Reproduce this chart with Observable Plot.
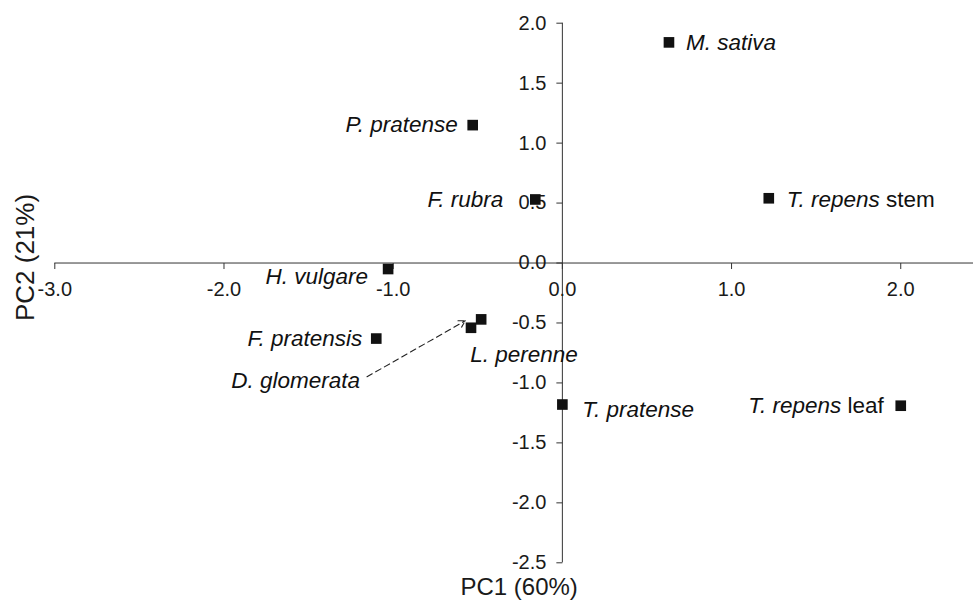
<!DOCTYPE html>
<html><head><meta charset="utf-8">
<script src="https://cdn.jsdelivr.net/npm/d3@7"></script>
<script src="https://cdn.jsdelivr.net/npm/@observablehq/plot@0.6"></script>
<style>body{margin:0;background:#fff;} svg{display:block}</style>
</head><body><div id="chart"></div>
<script>
// ---- data ----
const species = ["M. sativa","T. repens stem","P. pratense","F. rubra","H. vulgare","F. pratensis","D. glomerata","L. perenne","T. pratense","T. repens leaf"];
const pc1 = [0.63, 1.22, -0.53, -0.16, -1.03, -1.10, -0.54, -0.48, 0.0, 2.0];
const pc2 = [1.84, 0.54, 1.15, 0.53, -0.05, -0.63, -0.54, -0.47, -1.18, -1.19];
const xTicks = [-3, -2, -1, 0, 1, 2];
const yTicks = [-2.5, -2, -1.5, -1, -0.5, 0, 0.5, 1, 1.5, 2];
const xTitle = "PC1 (60%)";
const yTitle = "PC2 (21%)";
const arrowFrom = "D. glomerata";

// ---- layout (label placement in pixels) ----
const labelLayout = {
  "M. sativa":      {anchor: "start", dx: 17,   dy: 0},
  "T. repens stem": {anchor: "start", dx: 18,   dy: 2},
  "P. pratense":    {anchor: "end",   dx: -15,  dy: 0},
  "F. rubra":       {anchor: "end",   dx: -32,  dy: 0},
  "H. vulgare":     {anchor: "end",   dx: -20,  dy: 8},
  "F. pratensis":   {anchor: "end",   dx: -14,  dy: 0},
  "D. glomerata":   {anchor: "end",   dx: -111, dy: 53},
  "L. perenne":     {anchor: "start", dx: -11,  dy: 35},
  "T. pratense":    {anchor: "start", dx: 20,   dy: 5},
  "T. repens leaf": {anchor: "end",   dx: -17,  dy: 0}
};

const W = 973, H = 600, mL = 54.3, mR = 0, mT = 22.7, mB = 37.7;
const xDomain = [-3, 2.43], yDomain = [-2.5, 2];
const points = species.map((s, i) => ({name: s, x: pc1[i], y: pc2[i]}));

const xs = d3.scaleLinear(xDomain, [mL, W - mR]);
const ys = d3.scaleLinear(yDomain, [H - mB, mT]);
const ap = points.find(p => p.name === arrowFrom);
const apx = xs(ap.x), apy = ys(ap.y);
const arrowData = [{
  x1: xs.invert(apx - 104), y1: ys.invert(apy + 49),
  x2: xs.invert(apx - 5.7), y2: ys.invert(apy - 7)
}];

const tickDown = {draw(ctx) { ctx.moveTo(0, 0); ctx.lineTo(0, 6); }};
const tickLeft = {draw(ctx) { ctx.moveTo(0, 0); ctx.lineTo(-6, 0); }};
const fmt = d => d.toFixed(1);
const axisColor = "#333";

const labelMarks = points.map(p => {
  const L = labelLayout[p.name];
  return Plot.text([p], {
    x: "x", y: "y", text: "name", textAnchor: L.anchor, dx: L.dx, dy: L.dy,
    fontSize: 22.5, fontStyle: "italic", fill: "#111", lineAnchor: "middle"
  });
});

const plot = Plot.plot({
  width: W, height: H,
  marginLeft: mL, marginRight: mR, marginTop: mT, marginBottom: mB,
  x: {domain: xDomain, axis: null},
  y: {domain: yDomain, axis: null},
  style: {fontFamily: "'Liberation Sans', Arial, Helvetica, sans-serif", background: "white", color: "#111"},
  marks: [
    Plot.ruleY([0], {stroke: axisColor, strokeWidth: 1}),
    Plot.ruleX([0], {stroke: axisColor, strokeWidth: 1}),
    Plot.dot(xTicks, {x: d => d, y: () => 0, symbol: tickDown, r: 3, fill: "none", stroke: axisColor, strokeWidth: 1}),
    Plot.dot(yTicks, {x: () => 0, y: d => d, symbol: tickLeft, r: 3, fill: "none", stroke: axisColor, strokeWidth: 1}),
    Plot.text(xTicks, {x: d => d, y: () => 0, text: fmt, dy: 27, fontSize: 20, fill: "#1a1a1a", lineAnchor: "middle"}),
    Plot.text(yTicks, {x: () => 0, y: d => d, text: fmt, dx: -16, textAnchor: "end", fontSize: 20, fill: "#1a1a1a", lineAnchor: "middle"}),
    Plot.arrow(arrowData, {x1: "x1", y1: "y1", x2: "x2", y2: "y2", stroke: "#222", strokeWidth: 1.1, strokeDasharray: "6,4", headLength: 10, bend: 0}),
    Plot.dot(points, {x: "x", y: "y", symbol: "square", r: 6, fill: "#111", stroke: "none"}),
    ...labelMarks,
    Plot.text([xTitle], {frameAnchor: "bottom", textAnchor: "middle", text: d => d, dx: 5, dy: 24.5, fontSize: 24, fill: "#1a1a1a", lineAnchor: "middle"}),
    Plot.text([yTitle], {frameAnchor: "left", textAnchor: "middle", text: d => d, rotate: -90, dx: -29, dy: -35.5, fontSize: 26, fill: "#1a1a1a", lineAnchor: "middle"})
  ]
});

// upright "stem"/"leaf" after italic species name
d3.select(plot).selectAll("text").each(function () {
  const m = this.textContent.match(/^(T\. repens) (stem|leaf)$/);
  if (m) {
    const t = d3.select(this);
    t.text(null);
    t.append("tspan").attr("font-style", "italic").text(m[1] + " ");
    t.append("tspan").attr("font-style", "normal").text(m[2]);
  }
});

document.getElementById("chart").appendChild(plot);
</script>
</body></html>
